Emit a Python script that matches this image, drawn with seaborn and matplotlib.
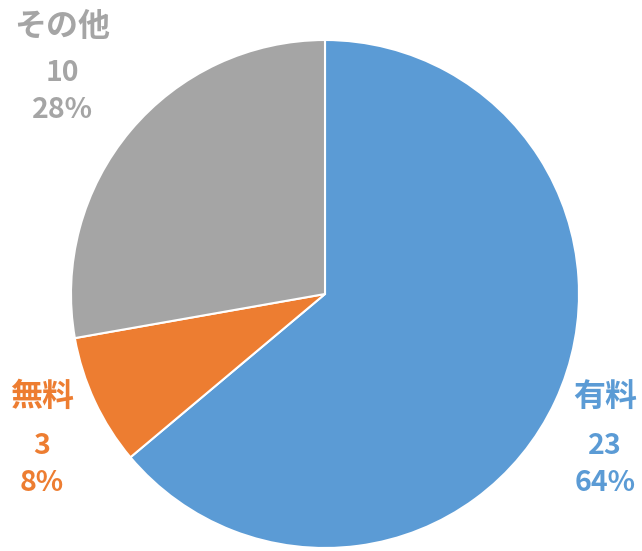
import matplotlib
matplotlib.use("Agg")
import matplotlib.pyplot as plt
import seaborn as sns

categories = ["有料", "無料", "その他"]
values = [23, 3, 10]
percents = ["64%", "8%", "28%"]
colors = ["#5B9BD5", "#ED7D31", "#A5A5A5"]

sns.set_theme(style="white")
plt.rcParams['font.family'] = ['Noto Sans CJK JP', 'DejaVu Sans']

fig = plt.figure(figsize=(6.42, 5.51), dpi=100)
ax = fig.add_axes([(325 - 254) / 642, (551 - 294 - 254) / 551, 508 / 642, 508 / 551])
ax.pie(values, colors=colors, startangle=90, counterclock=False,
       wedgeprops=dict(edgecolor="white", linewidth=1.5), radius=1.0)
ax.set_xlim(-1, 1)
ax.set_ylim(-1, 1)
ax.set_aspect("equal")
ax.axis("off")

# label anchor positions (in pie radius units)
label_pos = [(1.102, [-0.406, -0.598, -0.744]),
             (-1.114, [-0.406, -0.598, -0.744]),
             (-1.035, [1.051, 0.870, 0.724])]

for cat, val, pct, col, (x, ys) in zip(categories, values, percents, colors, label_pos):
    ax.text(x, ys[0], cat, color=col, fontsize=23, fontweight="bold",
            ha="center", va="center", clip_on=False)
    ax.text(x, ys[1], str(val), color=col, fontsize=20.5, fontweight="bold",
            ha="center", va="center", clip_on=False)
    ax.text(x, ys[2], pct, color=col, fontsize=20.5, fontweight="bold",
            ha="center", va="center", clip_on=False)

fig.savefig("out.png", dpi=100)
